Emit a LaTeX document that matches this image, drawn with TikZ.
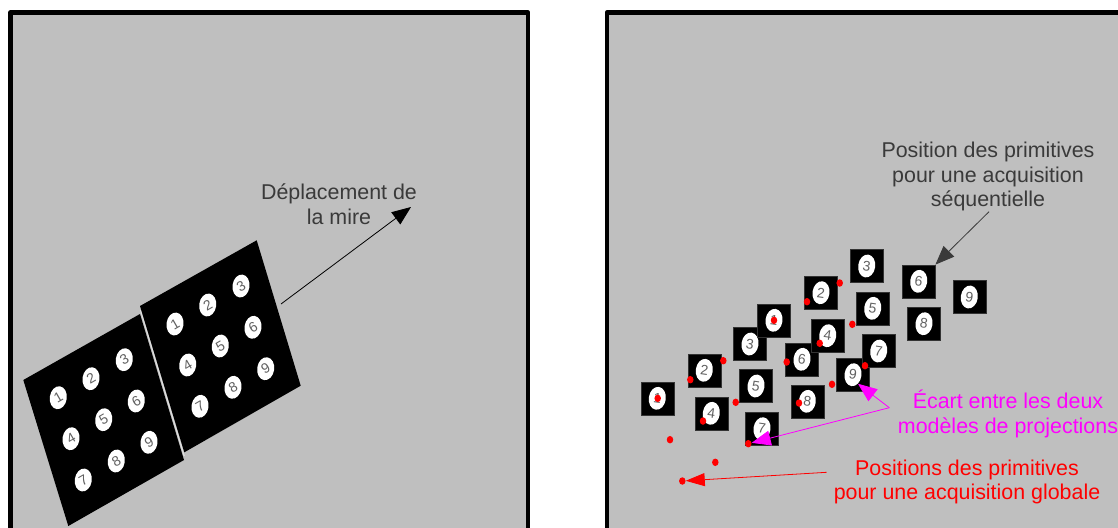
\documentclass[tikz,border=0pt]{standalone}
\usepackage{fontspec}
\setmainfont{Liberation Sans}
\usetikzlibrary{positioning}
\usetikzlibrary{arrows.meta}
\usetikzlibrary{shapes.geometric}
\definecolor{panelgrey}{HTML}{BFBFBF}
\definecolor{labelgrey}{HTML}{3A3A3A}
\definecolor{ecart}{HTML}{FF00FF}
\tikzset{
  frame/.style={draw=black,fill=panelgrey,line width=4.5pt,line join=round},
  mire/.style={fill=black},
  tile/.style={draw=black!80,fill=black,line width=.4pt,inner sep=0pt,minimum size=33pt},
  digit/.style={text=labelgrey!80,font=\fontsize{14}{14}\selectfont},
  spot/.style={ellipse,fill=white,inner sep=0pt,minimum width=17pt,minimum height=23pt,rotate=-8,digit},
  reddot/.style={ellipse,fill=red,inner sep=0pt,minimum width=6.5pt,minimum height=7.5pt},
  caption/.style={align=center,font=\fontsize{21.4}{24.5}\selectfont},
  fleche/.style={line width=.8pt,-{Triangle[length=19pt,width=15pt]}},
}
\begin{document}
\begin{tikzpicture}[x=1pt,y=-1pt]

  \path[use as bounding box,clip] (0,0) rectangle (1118,527);

  % Draw frames
  \draw[frame] (10.5,12.5) rectangle (528,560);
  \draw[frame] (607,12.5) rectangle (1140,560);

  % Draw left targets
  \fill[mire] (23.3,380) -- (140,314) -- (184,460) -- (68.3,526) -- cycle;
  \draw[white!50!panelgrey,line width=1.2pt] (140.5,310) -- (184.2,456);
  \fill[mire] (140,306) -- (256.7,240.3) -- (300.7,385.7) -- (184.3,452.3) -- cycle;

  % Plot circles on left targets
  \foreach \n/\x/\y in {1/58.3/397.7,2/91/378.7,3/124.3/359.7,4/71/438.7,5/103.7/419.7,
                        6/136.3/401,7/83.3/480,8/116.3/461,9/149/442.3}{
    \node[spot] (l\n) at (\x,\y) {};
    \node[digit,rotate=30] (p\n) at (\x,\y) {\n};
  }
  \foreach \n/\x/\y in {1/175/324,2/207.7/305,3/241/286,4/187.7/365,5/220.3/346,
                        6/253/327.3,7/200/406.3,8/233/387.3,9/265.7/368.7}{
    \node[spot] (m\n) at (\x,\y) {};
    \node[digit,rotate=30] (q\n) at (\x,\y) {\n};
  }

  % Draw squares, first acquisition
  \foreach \n/\x/\y in {1/657.3/398.3,2/704.3/370.3,3/750/344,4/711.3/413.3,5/756/386,
                        6/802/359.3,7/762/428.7,8/807.3/401.3,9/853/374.7}{
    \node[tile] (a\n) at (\x,\y) {};
    \node[spot] (c\n) at (\x,\y) {\n};
  }

  % Draw squares, second acquisition
  \foreach \n/\x/\y in {1/774/320.3,2/821/292.7,3/866.7/266,4/827.7/335.7,5/872.7/308.3,
                        6/918.7/281.3,7/878.7/351,8/924/323.7,9/969.3/297}{
    \node[tile] (b\n) at (\x,\y) {};
    \node[spot] (d\n) at (\x,\y) {\n};
  }

  % Plot red dots
  \foreach \n/\x/\y in {1/657.7/398.3,2/690.3/379.7,3/723.3/360.7,4/703/421,5/735.7/402.3,
                        7/748.3/443.7,8/670/439.7,9/715.3/462.3,10/682.3/481,
                        11/774/320.3,12/807/301.7,13/839.7/283,14/786.7/362,15/819.7/343.3,
                        16/852.3/324.3,17/799/403,18/832/384.3,19/865/365.7}
    \node[reddot] (r\n) at (\x,\y) {};

  % Labels
  \node[caption,text=labelgrey] (deplacement) at (339,204) {Déplacement de\\la mire};
  \node[caption,text=labelgrey] (sequentielle) at (988,176.5) {Position des primitives\\pour une acquisition\\séquentielle};
  \node[caption,text=ecart] (ecartlabel) at (1008,414) {Écart entre les deux\\modèles de projections};
  \node[caption,text=red] (globale) at (967,482) {Positions des primitives\\pour une acquisition globale};

  % Arrows
  \coordinate (depstart) at (281,304);
  \coordinate (deptip) at (411,207);
  \coordinate (seqstart) at (989,211.7);
  \coordinate (fork) at (889.3,407.7);
  \coordinate (globstart) at (826.7,472.3);
  \draw[fleche,black] (depstart) -- (deptip);
  \draw[fleche,labelgrey] (seqstart) -- (b6.north east);
  \draw[fleche,ecart] (fork) -- (c9.south east);
  \draw[fleche,ecart] (fork) -- (r7);
  \draw[fleche,red,-{Triangle[length=19pt,width=13pt]}] (globstart) -- (r10);

\end{tikzpicture}
\end{document}
